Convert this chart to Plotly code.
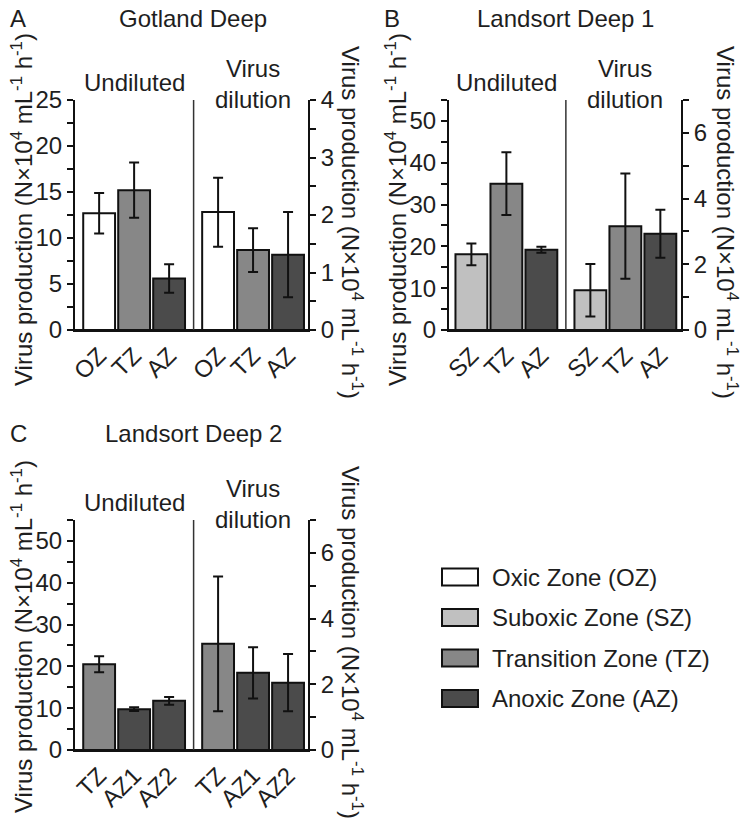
import plotly.graph_objects as go

# Zone colours
zone_colors = {"OZ": "#ffffff", "SZ": "#c0c0c0", "TZ": "#878787", "AZ": "#4b4b4b"}
legend_names = ["Oxic Zone (OZ)", "Suboxic Zone (SZ)", "Transition Zone (TZ)", "Anoxic Zone (AZ)"]
legend_zones = ["OZ", "SZ", "TZ", "AZ"]

# Panel A - Gotland Deep
a_labels = ["OZ", "TZ", "AZ"]
a_zones = ["OZ", "TZ", "AZ"]
a_undil = [12.7, 15.2, 5.6]
a_undil_err = [2.2, 3.0, 1.55]
a_dil = [2.05, 1.39, 1.31]
a_dil_err = [0.6, 0.38, 0.74]

# Panel B - Landsort Deep 1
b_labels = ["SZ", "TZ", "AZ"]
b_zones = ["SZ", "TZ", "AZ"]
b_undil = [18.1, 35.0, 19.2]
b_undil_err = [2.6, 7.5, 0.7]
b_dil = [1.21, 3.16, 2.93]
b_dil_err = [0.8, 1.6, 0.73]

# Panel C - Landsort Deep 2
c_labels = ["TZ", "AZ1", "AZ2"]
c_zones = ["TZ", "AZ", "AZ"]
c_undil = [20.5, 9.75, 11.75]
c_undil_err = [1.9, 0.45, 0.9]
c_dil = [3.23, 2.35, 2.05]
c_dil_err = [2.05, 0.78, 0.87]

# page body has an 8px margin, so the figure is placed at (8, 8)
PAD = 8
W, H = 748 - PAD, 823 - PAD
FONT = "Liberation Sans, Arial, sans-serif"
TXT = "#1e1e1e"
OFFSET = 3.4  # shift of the dilution group on the x axis

def fx(px):
    return (px - PAD) / W

def fy(py):
    return 1 - (py - PAD) / H

ytitle = "Virus production (N×10<sup>4</sup> mL<sup>-1</sup> h<sup>-1</sup>)"

fig = go.Figure()

panels = [
    dict(letter="A", title="Gotland Deep", labels=a_labels, zones=a_zones, undil=a_undil, undil_err=a_undil_err,
         dil=a_dil, dil_err=a_dil_err, xd=(75, 308), yd=(100, 330), xr=[-0.69, 5.97],
         ly=(25, 5, 2.5), ry=(4, 1, 0.5), title_y=18, title_x=193, letter_x=18,
         lt=(22, 210), rt=(352, 222)),
    dict(letter="B", title="Landsort Deep 1", labels=b_labels, zones=b_zones, undil=b_undil, undil_err=b_undil_err,
         dil=b_dil, dil_err=b_dil_err, xd=(449, 681), yd=(100, 330), xr=[-0.64, 5.99],
         ly=(55, 10, 5), ry=(7, 2, 1), title_y=18, title_x=565, letter_x=392,
         lt=(396, 210), rt=(727, 222)),
    dict(letter="C", title="Landsort Deep 2", labels=c_labels, zones=c_zones, undil=c_undil, undil_err=c_undil_err,
         dil=c_dil, dil_err=c_dil_err, xd=(75, 308), yd=(520, 750), xr=[-0.69, 5.97],
         ly=(55, 10, 5), ry=(7, 2, 1), title_y=433, title_x=193, letter_x=18,
         lt=(22, 637), rt=(352, 642)),
]

layout = {}
annotations = []
shapes = []

for k, p in enumerate(panels):
    xa = "x" if k == 0 else f"x{k + 1}"
    yl = "y" if k == 0 else f"y{2 * k + 1}"
    yr = f"y{2 * k + 2}"
    xkey = "xaxis" if k == 0 else f"xaxis{k + 1}"
    ylkey = "yaxis" if k == 0 else f"yaxis{2 * k + 1}"
    yrkey = f"yaxis{2 * k + 2}"

    n = len(p["labels"])
    pos_u = list(range(n))
    pos_d = [i + OFFSET for i in range(n)]
    colors = [zone_colors[z] for z in p["zones"]]

    fig.add_trace(go.Bar(
        x=pos_u, y=p["undil"], width=0.91, xaxis=xa, yaxis=yl,
        marker=dict(color=colors, line=dict(color="#111", width=2)),
        error_y=dict(type="data", array=p["undil_err"], color="#111", thickness=2, width=5),
        showlegend=False))
    fig.add_trace(go.Bar(
        x=pos_d, y=p["dil"], width=0.91, xaxis=xa, yaxis=yr,
        marker=dict(color=colors, line=dict(color="#111", width=2)),
        error_y=dict(type="data", array=p["dil_err"], color="#111", thickness=2, width=5),
        showlegend=False))

    ydom = [fy(p["yd"][1]), fy(p["yd"][0])]
    layout[xkey] = dict(
        domain=[fx(p["xd"][0]), fx(p["xd"][1])], anchor=yl, range=p["xr"], automargin=False,
        tickvals=pos_u + pos_d, ticktext=p["labels"] + p["labels"], tickangle=-45,
        showline=True, linecolor="#111", linewidth=2, ticks="", showgrid=False, zeroline=False,
        tickfont=dict(size=24, color=TXT, family=FONT), fixedrange=True)
    lmax, ldt, lmin = p["ly"]
    layout[ylkey] = dict(
        domain=ydom, anchor=xa, range=[0, lmax], dtick=ldt, tick0=0, automargin=False,
        showline=True, linecolor="#111", linewidth=2, ticks="outside", ticklen=6, tickwidth=2,
        tickcolor="#111", showgrid=False, zeroline=False,
        minor=dict(dtick=lmin, tick0=0, ticks="outside", ticklen=6, tickwidth=2, tickcolor="#111"),
        tickfont=dict(size=24, color=TXT, family=FONT))
    rmax, rdt, rmin = p["ry"]
    layout[yrkey] = dict(
        domain=ydom, anchor=xa, overlaying=yl, side="right", range=[0, rmax], dtick=rdt, tick0=0,
        automargin=False,
        showline=True, linecolor="#111", linewidth=2, ticks="outside", ticklen=6, tickwidth=2,
        tickcolor="#111", showgrid=False, zeroline=False,
        minor=dict(dtick=rmin, tick0=0, ticks="outside", ticklen=6, tickwidth=2, tickcolor="#111"),
        tickfont=dict(size=24, color=TXT, family=FONT))

    # baseline runs a little past both y axes
    span = p["xd"][1] - p["xd"][0]
    shapes.append(dict(type="line", xref=f"{xa} domain", yref=f"{yl} domain",
                       x0=-6 / span, x1=1 + 7 / span, y0=0, y1=0,
                       line=dict(color="#111", width=2)))

    # divider between undiluted and dilution groups
    mid = (pos_u[-1] + pos_d[0]) / 2
    shapes.append(dict(type="line", xref=xa, yref=f"{yl} domain", x0=mid, x1=mid, y0=0, y1=1,
                       line=dict(color="#333", width=1.5)))

    # group labels
    annotations.append(dict(xref=xa, yref=f"{yl} domain", x=sum(pos_u) / n, y=1, yshift=18,
                            text="Undiluted", showarrow=False, yanchor="middle",
                            font=dict(size=24, color=TXT, family=FONT)))
    annotations.append(dict(xref=xa, yref=f"{yl} domain", x=sum(pos_d) / n, y=1, yshift=16,
                            text="Virus<br>dilution", showarrow=False, yanchor="middle",
                            font=dict(size=24, color=TXT, family=FONT)))

    # panel letter and title
    annotations.append(dict(xref="paper", yref="paper", x=fx(p["letter_x"]), y=fy(p["title_y"]),
                            text=p["letter"], showarrow=False, xanchor="center", yanchor="middle",
                            font=dict(size=24, color=TXT, family=FONT)))
    annotations.append(dict(xref="paper", yref="paper", x=fx(p["title_x"]), y=fy(p["title_y"]),
                            text=p["title"], showarrow=False, xanchor="center", yanchor="middle",
                            font=dict(size=24, color=TXT, family=FONT)))

    # axis titles
    annotations.append(dict(xref="paper", yref="paper", x=fx(p["lt"][0]), y=fy(p["lt"][1]),
                            text=ytitle, textangle=-90, showarrow=False, xanchor="center", yanchor="middle",
                            font=dict(size=24, color=TXT, family=FONT)))
    annotations.append(dict(xref="paper", yref="paper", x=fx(p["rt"][0]), y=fy(p["rt"][1]),
                            text=ytitle, textangle=90, showarrow=False, xanchor="center", yanchor="middle",
                            font=dict(size=24, color=TXT, family=FONT)))

# custom legend
for i, (name, z) in enumerate(zip(legend_names, legend_zones)):
    cy = 577 + i * 40.5
    shapes.append(dict(type="rect", xref="paper", yref="paper",
                       x0=fx(442), x1=fx(478), y0=fy(cy + 8.5), y1=fy(cy - 8.5),
                       fillcolor=zone_colors[z], line=dict(color="#111", width=2)))
    annotations.append(dict(xref="paper", yref="paper", x=fx(490), y=fy(cy), text=name,
                            showarrow=False, xanchor="left", yanchor="middle",
                            font=dict(size=24, color=TXT, family=FONT)))

fig.update_layout(
    width=W, height=H, margin=dict(l=0, r=0, t=0, b=0, autoexpand=False),
    paper_bgcolor="white", plot_bgcolor="white",
    barmode="overlay", showlegend=False,
    font=dict(family=FONT, color=TXT, size=24),
    annotations=annotations, shapes=shapes, **layout)

fig.write_html("out.html")
